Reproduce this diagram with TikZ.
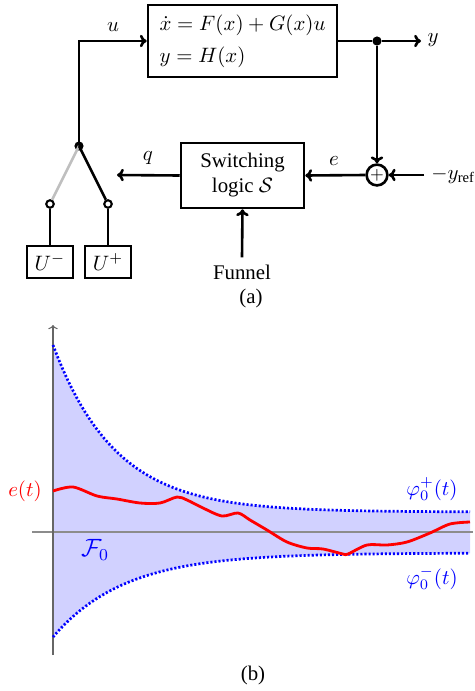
\documentclass[tikz,border=0pt]{standalone}
\usepackage[no-math]{fontspec}
\setmainfont{Liberation Serif}
\usetikzlibrary{arrows.meta}
\begin{document}
\begin{tikzpicture}[x=0.48pt,y=-0.48pt,
  blk/.style={draw, line width=1.25pt, inner sep=0pt},
  wire/.style={line width=1.25pt},
  arr/.style={line width=1.25pt, -{To[length=3.3pt,width=6pt]}},
  jdot/.style={circle, fill, inner sep=0pt, minimum size=4.4pt},
  odot/.style={circle, draw, fill=white, line width=1pt, inner sep=0pt, minimum size=3.6pt},
  bound/.style={blue, line width=1.3pt, dash pattern=on 1pt off 0.95pt}
]
\useasboundingbox (0,0) rectangle (474,691);

% ---------- (a) block diagram ----------
\node[blk, minimum width=90.7pt, minimum height=34.6pt, align=left] (sys) at (242.5,41)
  {$\dot x = F(x) + G(x)u$\\[3.4pt] $y = H(x)$};
\node[blk, minimum width=59pt, minimum height=31.2pt, align=center] (logic) at (242.5,175.5)
  {Switching\\logic $\mathcal{S}$};
\node[circle, draw, line width=1.25pt, inner sep=0pt, minimum size=10pt, font=\footnotesize] (sum) at (377,175) {$+$};
\node[jdot] (ydot) at (377,41) {};
\coordinate (yend) at (421,41);
\node (ly) at (433,40) {$y$};
\node[anchor=west] (yref) at (424,175) {$-y_{\mbox{\scriptsize ref}}$};
\node (le) at (334,161) {$e$};
\coordinate (qend) at (117,175);
\node (lq) at (148,158) {$q$};
\node (funnel) at (242,272) {Funnel};
\node (lu) at (113,27) {$u$};

\node[jdot] (sw) at (79,146) {};
\node[odot] (cm) at (50,204) {};
\node[odot] (cp) at (108,204) {};
\node[blk, minimum width=22pt, minimum height=15.4pt] (um) at (50,262) {$U^-$};
\node[blk, minimum width=22pt, minimum height=15.4pt] (up) at (108,262) {$U^+$};
\node (capa) at (251,298) {(a)};

\draw[wire] (sys.east) -- (ydot);
\draw[arr] (ydot) -- (yend);
\draw[arr] (ydot) -- (sum.north);
\draw[arr] (yref.west) -- (sum.east);
\draw[arr] (sum.west) -- (logic.east);
\draw[arr] (logic.west) -- (qend);
\draw[arr] (funnel.north) -- (logic.south);
\draw[arr] (sw.center) |- (sys.west);
\draw[wire, black!25] (sw.center) -- (cm);
\draw[wire] (sw.center) -- (cp);
\draw[wire] (cm) -- (um);
\draw[wire] (cp) -- (up);

% ---------- (b) funnel plot ----------
\fill[blue!18] plot[domain=53:470, samples=90] (\x, {512-167*exp(-0.016*(\x-53))})
  -- plot[domain=470:53, samples=90] (\x, {553+84*exp(-0.014*(\x-53))}) -- cycle;
\coordinate (xa0) at (32,532);
\coordinate (xa1) at (473,532);
\coordinate (ya0) at (53,655);
\coordinate (ya1) at (53,325);
\draw[black!45, line width=0.5pt] (xa0) -- (xa1);
\draw[black!60, line width=0.5pt, -{To[length=2pt,width=4.5pt]}] (ya0) -- (ya1);
\draw[bound] plot[domain=53:470, samples=90] (\x, {512-167*exp(-0.016*(\x-53))});
\draw[bound] plot[domain=53:470, samples=90] (\x, {553+84*exp(-0.014*(\x-53))});
\draw[red, line width=1.35pt] plot[smooth, tension=0.5] coordinates {
 (53,491) (73,487) (97,496) (117,499) (140,503) (160,503) (177,497) (187,500)
 (203,508) (222,516) (238,513) (250,520) (267,530) (287,542) (307,548) (323,549)
 (343,554) (348,554) (367,545) (387,545) (407,542) (430,533) (450,524) (470,522)};
\node[red] (et) at (25,491) {$e(t)$};
\node[blue] (phip) at (432,489) {$\varphi_0^+(t)$};
\node[blue] (phim) at (432,578) {$\varphi_0^-(t)$};
\node[blue, font=\large] (F0) at (95,550) {$\mathcal{F}_0$};
\node (capb) at (253,675) {(b)};
\end{tikzpicture}
\end{document}
